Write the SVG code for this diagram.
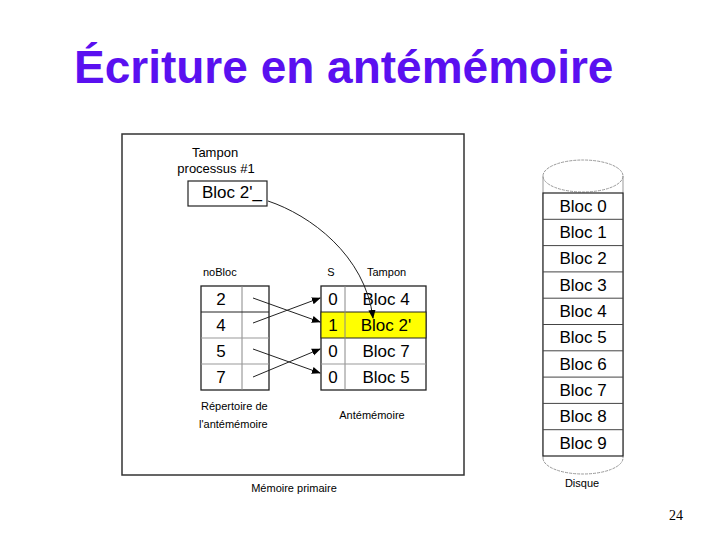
<svg xmlns="http://www.w3.org/2000/svg" width="720" height="540" viewBox="0 0 720 540">
<defs>
<marker id="ah" viewBox="0 0 10 10" refX="9" refY="5" markerWidth="9" markerHeight="9" markerUnits="userSpaceOnUse" orient="auto">
<path d="M0,1 L10,5 L0,9 z" fill="#000"/>
</marker>
<style>
.t{font-family:"Liberation Sans",Arial,sans-serif;fill:#000}
.big{font-size:17px}
.sm{font-size:11px}
.md{font-size:13px}
.cell{fill:#fff;stroke:#222;stroke-width:1.3}
.div{stroke:#888;stroke-width:1}
.ln{stroke:#222;stroke-width:1;fill:none}
.cyl{stroke:#999;stroke-width:1;fill:none}
</style>
</defs>
<rect width="720" height="540" fill="#fff"/>
<text x="74" y="83" font-family="Liberation Sans,Arial,sans-serif" font-weight="bold" font-size="46" fill="#5a10f0">Écriture en antémémoire</text>

<g id="memoire-primaire">
<rect x="122" y="134" width="342" height="341" fill="#fff" stroke="#333" stroke-width="1.5"/>
<text class="t sm" x="294" y="492" text-anchor="middle">Mémoire primaire</text>
</g>

<g id="tampon-processus">
<text class="t md" x="215" y="157" text-anchor="middle">Tampon</text>
<text class="t md" x="216" y="173" text-anchor="middle">processus #1</text>
<rect x="188" y="181" width="79" height="25" fill="#fff" stroke="#222" stroke-width="1.2"/>
<text class="t big" x="202" y="198">Bloc 2'_</text>
</g>

<g id="repertoire">
<text class="t sm" x="203" y="276">noBloc</text>
<rect class="cell" x="201" y="286" width="68" height="104"/>
<line class="div" x1="242" y1="286" x2="242" y2="390"/>
<line x1="201" y1="312" x2="269" y2="312" stroke="#222"/>
<line x1="201" y1="338" x2="269" y2="338" stroke="#999"/>
<line x1="201" y1="364" x2="269" y2="364" stroke="#999"/>
<text class="t big" x="221" y="305" text-anchor="middle">2</text>
<text class="t big" x="221" y="331" text-anchor="middle">4</text>
<text class="t big" x="221" y="357" text-anchor="middle">5</text>
<text class="t big" x="221" y="383" text-anchor="middle">7</text>
<text class="t sm" x="201" y="410">Répertoire de</text>
<text class="t sm" x="199" y="428">l'antémémoire</text>
</g>

<g id="antememoire">
<text class="t sm" x="331" y="276" text-anchor="middle">S</text>
<text class="t sm" x="367" y="276">Tampon</text>
<rect class="cell" x="321" y="286" width="105" height="104"/>
<rect x="321" y="312" width="105" height="26" fill="#ffff00" stroke="#222" stroke-width="1"/>
<line class="div" x1="345" y1="286" x2="345" y2="390" stroke="#222"/>
<line x1="321" y1="364" x2="426" y2="364" stroke="#999"/>
<text class="t big" x="333" y="305" text-anchor="middle">0</text>
<text class="t big" x="333" y="331" text-anchor="middle">1</text>
<text class="t big" x="333" y="357" text-anchor="middle">0</text>
<text class="t big" x="333" y="383" text-anchor="middle">0</text>
<text class="t big" x="386" y="305" text-anchor="middle">Bloc 4</text>
<text class="t big" x="386" y="331" text-anchor="middle">Bloc 2'</text>
<text class="t big" x="386" y="357" text-anchor="middle">Bloc 7</text>
<text class="t big" x="386" y="383" text-anchor="middle">Bloc 5</text>
<text class="t sm" x="372" y="419" text-anchor="middle">Antémémoire</text>
</g>

<g id="disque">
<ellipse class="cyl" cx="583" cy="176" rx="40" ry="16" stroke-dasharray="3,1"/>
<line class="cyl" x1="543" y1="176" x2="543" y2="458"/>
<line class="cyl" x1="623" y1="176" x2="623" y2="458"/>
<path class="cyl" d="M543,458 A40,16 0 0 0 623,458" stroke-dasharray="3,1"/>
<rect x="543" y="193" width="80" height="263" fill="#fff" stroke="#222" stroke-width="1.2"/>
<g stroke="#444" stroke-width="1">
<line x1="543" y1="219.3" x2="623" y2="219.3"/>
<line x1="543" y1="245.6" x2="623" y2="245.6"/>
<line x1="543" y1="271.9" x2="623" y2="271.9"/>
<line x1="543" y1="298.2" x2="623" y2="298.2"/>
<line x1="543" y1="324.5" x2="623" y2="324.5"/>
<line x1="543" y1="350.8" x2="623" y2="350.8"/>
<line x1="543" y1="377.1" x2="623" y2="377.1"/>
<line x1="543" y1="403.4" x2="623" y2="403.4"/>
<line x1="543" y1="429.7" x2="623" y2="429.7"/>
</g>
<g class="t big" text-anchor="middle">
<text x="583" y="212">Bloc 0</text>
<text x="583" y="238">Bloc 1</text>
<text x="583" y="264">Bloc 2</text>
<text x="583" y="291">Bloc 3</text>
<text x="583" y="317">Bloc 4</text>
<text x="583" y="343">Bloc 5</text>
<text x="583" y="370">Bloc 6</text>
<text x="583" y="396">Bloc 7</text>
<text x="583" y="422">Bloc 8</text>
<text x="583" y="449">Bloc 9</text>
</g>
<text class="t sm" x="582" y="487" text-anchor="middle">Disque</text>
</g>

<g id="connecteurs">
<path class="ln" d="M268,201 C310,215 365,255 373,318" marker-end="url(#ah)"/>
<line class="ln" x1="253" y1="298" x2="320" y2="322" marker-end="url(#ah)"/>
<line class="ln" x1="253" y1="323" x2="320" y2="298" marker-end="url(#ah)"/>
<line class="ln" x1="253" y1="349" x2="320" y2="373" marker-end="url(#ah)"/>
<line class="ln" x1="253" y1="377" x2="320" y2="349" marker-end="url(#ah)"/>
</g>

<text x="676" y="520" font-family="Liberation Serif,Times New Roman,serif" font-size="14" fill="#000" text-anchor="middle">24</text>
</svg>
